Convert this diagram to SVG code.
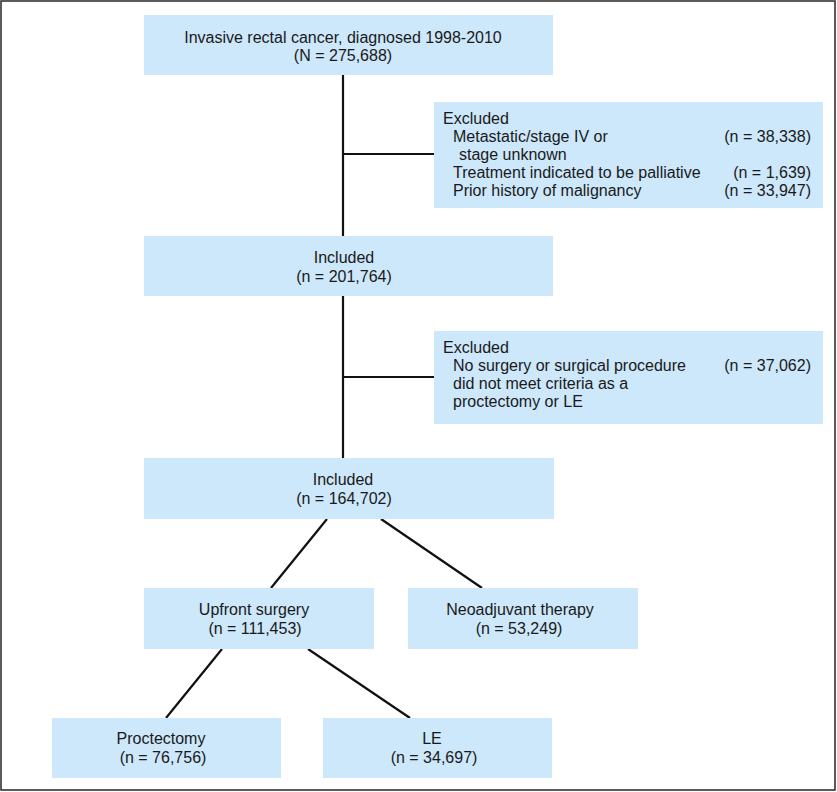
<svg xmlns="http://www.w3.org/2000/svg" width="837" height="792" viewBox="0 0 837 792">
<style>
.box{fill:#cde7fb;stroke:none}
text{font-family:"Liberation Sans",Arial,sans-serif;font-size:16px;fill:#1a1a1a}
.c{text-anchor:middle}
.r{text-anchor:end}
.ln{stroke:#111;stroke-width:2.2;fill:none}
</style>
<rect x="1" y="1" width="834" height="789" fill="#fff" stroke="#333" stroke-width="1.6"/>
<g id="connectors">
<line class="ln" x1="343" y1="75" x2="343" y2="236"/>
<line class="ln" x1="343" y1="154" x2="434" y2="154"/>
<line class="ln" x1="343" y1="296" x2="343" y2="458"/>
<line class="ln" x1="343" y1="377" x2="434" y2="377"/>
<line class="ln" x1="327" y1="519" x2="271" y2="588"/>
<line class="ln" x1="381" y1="519" x2="482" y2="588"/>
<line class="ln" x1="222" y1="649" x2="166" y2="718"/>
<line class="ln" x1="308" y1="649" x2="410" y2="718"/>
</g>
<g id="n-start">
<rect class="box" x="144" y="15" width="409" height="60"/>
<text class="c" x="343" y="43">Invasive rectal cancer, diagnosed 1998-2010</text>
<text class="c" x="343" y="61">(N = 275,688)</text>
</g>
<g id="n-excl1">
<rect class="box" x="434" y="102" width="389" height="106"/>
<text x="443" y="124">Excluded</text>
<text x="453" y="142">Metastatic/stage IV or</text>
<text class="r" x="811" y="142">(n = 38,338)</text>
<text x="459" y="160">stage unknown</text>
<text x="453" y="178">Treatment indicated to be palliative</text>
<text class="r" x="811" y="178">(n = 1,639)</text>
<text x="453" y="196">Prior history of malignancy</text>
<text class="r" x="811" y="196">(n = 33,947)</text>
</g>
<g id="n-incl1">
<rect class="box" x="144" y="236" width="409" height="60"/>
<text class="c" x="344" y="263">Included</text>
<text class="c" x="344" y="282">(n = 201,764)</text>
</g>
<g id="n-excl2">
<rect class="box" x="434" y="331" width="389" height="93"/>
<text x="443" y="353">Excluded</text>
<text x="453" y="371">No surgery or surgical procedure</text>
<text class="r" x="811" y="371">(n = 37,062)</text>
<text x="453" y="389">did not meet criteria as a</text>
<text x="453" y="407">proctectomy or LE</text>
</g>
<g id="n-incl2">
<rect class="box" x="144" y="458" width="410" height="61"/>
<text class="c" x="343" y="485">Included</text>
<text class="c" x="344" y="504">(n = 164,702)</text>
</g>
<g id="n-upfront">
<rect class="box" x="144" y="588" width="230" height="61"/>
<text class="c" x="254" y="615">Upfront surgery</text>
<text class="c" x="255" y="634">(n = 111,453)</text>
</g>
<g id="n-neo">
<rect class="box" x="408" y="588" width="230" height="61"/>
<text class="c" x="520" y="615">Neoadjuvant therapy</text>
<text class="c" x="519" y="634">(n = 53,249)</text>
</g>
<g id="n-proct">
<rect class="box" x="52" y="718" width="229" height="60"/>
<text class="c" x="161" y="744">Proctectomy</text>
<text class="c" x="163" y="763">(n = 76,756)</text>
</g>
<g id="n-le">
<rect class="box" x="323" y="718" width="229" height="60"/>
<text class="c" x="432" y="744">LE</text>
<text class="c" x="434" y="763">(n = 34,697)</text>
</g>
</svg>
